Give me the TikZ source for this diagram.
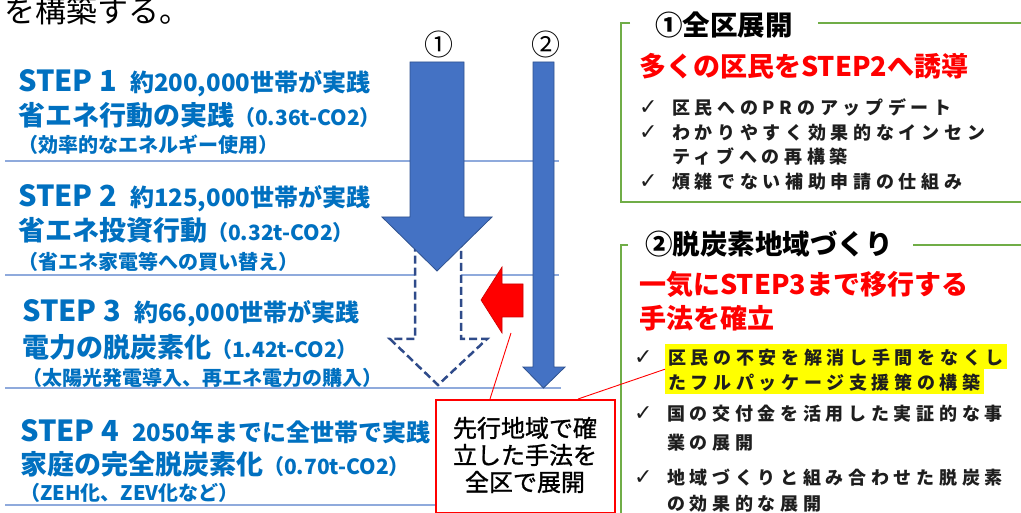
\documentclass[tikz,border=0pt]{standalone}
\usepackage{fontspec}
\setmainfont{Noto Sans CJK JP}
\newfontfamily\dejavu{DejaVu Sans}
\usetikzlibrary{calc}
\definecolor{stepblue}{HTML}{0070C0}
\definecolor{sepblue}{HTML}{8FAADC}
\definecolor{arrowblue}{HTML}{4472C4}
\definecolor{arrowedge}{HTML}{2F528F}
\definecolor{dashnavy}{HTML}{2F4B8A}
\definecolor{boxgreen}{HTML}{70AD47}
\definecolor{hlyellow}{HTML}{FFFF00}
\definecolor{itemtext}{HTML}{1E1E1E}
\definecolor{calloutred}{HTML}{FF0000}
\newcommand\myfs[1]{\fontsize{#1}{#1}\selectfont}
\begin{document}
\begin{tikzpicture}[x=1pt,y=-1pt,
  steptxt/.style={anchor=base west, inner sep=0pt, text=stepblue, font=\bfseries},
  sepline/.style={draw=sepblue, line width=1.2pt},
  grn/.style={draw=boxgreen, line width=1.6pt},
  titletxt/.style={anchor=base west, inner sep=0pt, text=black, font=\myfs{27.5}\bfseries},
  redtxt/.style={anchor=base west, inner sep=0pt, text=calloutred, font=\myfs{27}\bfseries},
  itemtxt/.style={anchor=base west, inner sep=0pt, text=itemtext, font=\myfs{18}\bfseries\addfontfeatures{LetterSpace=26}},
  hltxt/.style={itemtxt, fill=hlyellow, inner xsep=3pt, inner ysep=0pt, text height=20pt, text depth=5pt},
  chk/.style={anchor=base west, inner sep=0pt, text=itemtext, font=\dejavu\fontsize{22}{22}\selectfont},
  circnum/.style={anchor=base, inner sep=0pt, font=\myfs{29}},
  bigarrow/.style={fill=arrowblue, draw=arrowedge, line width=0.8pt},
  dasharrow/.style={fill=white, draw=dashnavy, line width=2.5pt, dash pattern=on 8pt off 4pt},
  redarrow/.style={fill=calloutred, draw=calloutred!80!black, line width=0.6pt},
  pointer/.style={draw=calloutred, line width=0.9pt},
  calloutbox/.style={draw=calloutred, fill=white, line width=1.5pt, minimum width=179pt, minimum height=113pt, anchor=north west, inner sep=0pt}
]
\useasboundingbox (0,0) rectangle (1021,513);
\clip (0,0) rectangle (1021,513);
\fill[white] (0,0) rectangle (1021,513);

% heading fragment
\node[anchor=base west, inner sep=0pt, font=\myfs{31}] (head) at (4,22.5) {を構築する。};

% separator lines
\draw[sepline] (5,161) -- (559,161);
\draw[sepline] (5,275) -- (559,275);
\draw[sepline] (5,388) -- (561,388);
\draw[sepline] (5,505) -- (561,505);

% STEP texts
\node[steptxt] (s1a) at (18,92) {\myfs{29}STEP 1\hspace{13pt}\myfs{24}約200,000世帯が実践};
\node[steptxt] (s1b) at (18,126) {\myfs{27}省エネ行動の実践\myfs{21}（0.36t-CO2）};
\node[steptxt] (s1c) at (18,153) {\myfs{20}（効率的なエネルギー使用）};

\node[steptxt] (s2a) at (18,207) {\myfs{29}STEP 2\hspace{13pt}\myfs{24}約125,000世帯が実践};
\node[steptxt] (s2b) at (18,241) {\myfs{27}省エネ投資行動\myfs{21}（0.32t-CO2）};
\node[steptxt] (s2c) at (18,270) {\myfs{20}（省エネ家電等への買い替え）};

\node[steptxt] (s3a) at (22,322) {\myfs{29}STEP 3\hspace{13pt}\myfs{24}約66,000世帯が実践};
\node[steptxt] (s3b) at (22,357) {\myfs{27}電力の脱炭素化\myfs{21}（1.42t-CO2）};
\node[steptxt] (s3c) at (22,385) {\myfs{20}（太陽光発電導入、再エネ電力の購入）};

\node[steptxt] (s4a) at (20,441) {\myfs{29}STEP 4\hspace{13pt}\myfs{24}2050年までに全世帯で実践};
\node[steptxt] (s4b) at (20,474) {\myfs{27}家庭の完全脱炭素化\myfs{21}（0.70t-CO2）};
\node[steptxt] (s4c) at (20,500) {\myfs{20}（ZEH化、ZEV化など）};

% arrows
\draw[dasharrow] (415,225) -- (461,225) -- (461,339) -- (487,339) -- (438,385) -- (390,339) -- (415,339) -- cycle;
\draw[bigarrow] (410,62) -- (464,62) -- (464,217) -- (492,217) -- (437,271) -- (382,217) -- (410,217) -- cycle;
\draw[bigarrow] (533,62) -- (554,62) -- (554,367) -- (565,367) -- (543.5,388) -- (523,367) -- (533,367) -- cycle;
\draw[redarrow] (481,300) -- (502,267) -- (502,284) -- (523,284) -- (523,317) -- (502,317) -- (502,333) -- cycle;
\node[circnum] (n1) at (439,56) {①};
\node[circnum] (n2) at (546,56) {②};
\coordinate (redpt) at (511,333);

% right panel 1
\draw[grn] (630,23) -- (621,23) -- (621,202) -- (1030,202);
\draw[grn] (818,23) -- (1030,23);
\node[titletxt] (t1) at (655,35.5) {①全区展開};
\node[redtxt] (r1) at (639,77) {多くの区民をSTEP2へ誘導};
\node[chk] (c11) at (639,115) {✓};
\node[itemtxt] (i11) at (672,115) {区民へのPRのアップデート};
\node[chk] (c12) at (639,140) {✓};
\node[itemtxt] (i12) at (672,140) {わかりやすく効果的なインセン};
\node[itemtxt] (i13) at (672,164) {ティブへの再構築};
\node[chk] (c14) at (639,189) {✓};
\node[itemtxt] (i14) at (672,189) {煩雑でない補助申請の仕組み};

% right panel 2
\draw[grn] (628,245) -- (621,245) -- (621,520);
\draw[grn] (913,245) -- (1030,245);
\node[titletxt] (t2) at (645,255) {②脱炭素地域づくり};
\node[redtxt] (r2) at (639,295) {一気にSTEP3まで移行する};
\node[redtxt] (r3) at (639,328.5) {手法を確立};
\node[chk] (c21) at (634,364) {✓};
\node[hltxt] (hl1) at (665,364) {区民の不安を解消し手間をなくし};
\node[hltxt] (hl2) at (665,389) {たフルパッケージ支援策の構築};
\node[chk] (c23) at (634,420) {✓};
\node[itemtxt] (i23) at (667,420) {国の交付金を活用した実証的な事};
\node[itemtxt] (i24) at (667,449) {業の展開};
\node[chk] (c25) at (634,484) {✓};
\node[itemtxt] (i25) at (667,484) {地域づくりと組み合わせた脱炭素};
\node[itemtxt] (i26) at (667,510) {の効果的な展開};

% callout
\node[calloutbox] (cbox) at (435,399) {};
\node[font=\fontsize{24}{27}\selectfont\addfontfeatures{FakeBold=1.2}, align=center, inner sep=0pt] (ctext) at (525,455) {先行地域で確\\立した手法を\\全区で展開};
\draw[pointer] ($(cbox.north west)+(55,0)$) -- (redpt);
\draw[pointer] ($(cbox.north west)+(143,0)$) -- (hl1.south west);
\end{tikzpicture}
\end{document}
